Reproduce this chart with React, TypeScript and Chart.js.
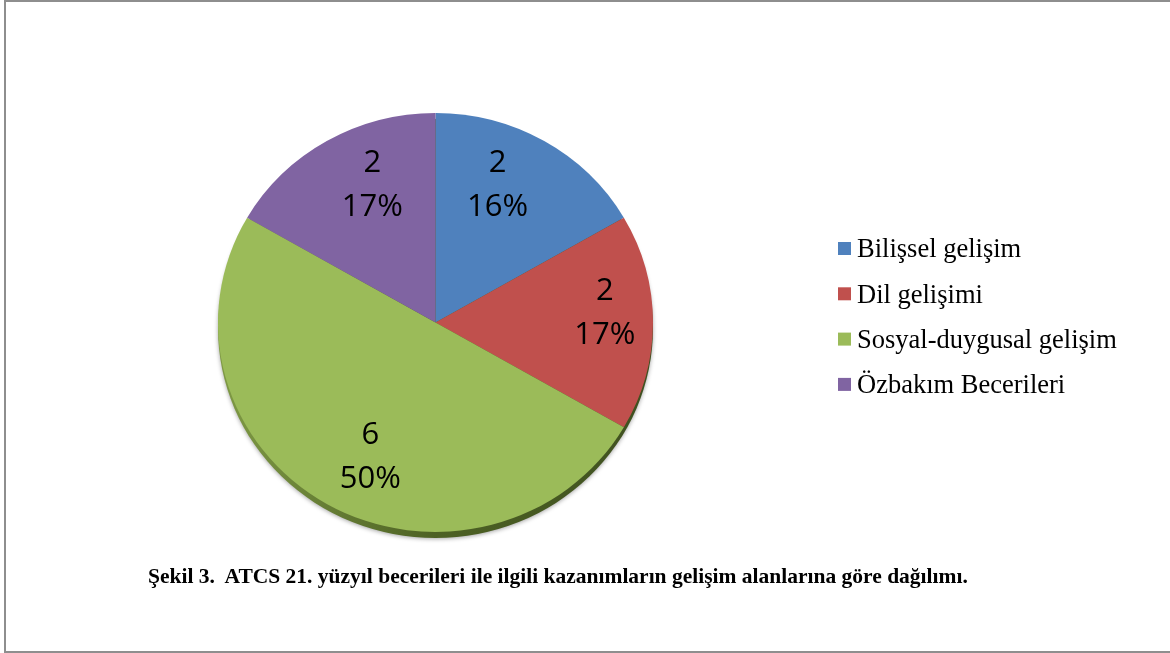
import React, { useEffect, useRef } from "react";
import { Chart, registerables } from "chart.js";

Chart.register(...registerables);

const categories = [
  "Bilişsel gelişim",
  "Dil gelişimi",
  "Sosyal-duygusal gelişim",
  "Özbakım Becerileri",
];
const values = [2, 2, 6, 2];
const percentLabels = ["16%", "17%", "50%", "17%"];
const sliceColors = ["#4f81bd", "#c0504d", "#9bbb59", "#8064a2"];
const caption =
  "Şekil 3.  ATCS 21. yüzyıl becerileri ile ilgili kazanımların gelişim alanlarına göre dağılımı.";

const TILT = 0.963;
const DEPTH = 6;
// best-fit style nudges for the data labels (layout only)
const LABEL_NUDGE: [number, number][] = [
  [-14, -10],
  [17, -9],
  [11, 8],
  [13, -10],
];

const tiltPlugin = {
  id: "tilt",
  beforeDatasetsDraw(chart: any) {
    const arc = chart.getDatasetMeta(0).data[0];
    if (!arc) return;
    const { x: cx, y: cy, outerRadius: r } = arc;
    const ctx = chart.ctx;
    ctx.save();
    ctx.translate(cx, cy);
    ctx.scale(1, TILT);
    ctx.translate(-cx, -cy);
    ctx.save();
    ctx.shadowColor = "rgba(0,0,0,0.35)";
    ctx.shadowBlur = 4;
    ctx.shadowOffsetY = 1;
    const g = ctx.createLinearGradient(cx - r, 0, cx + r, 0);
    g.addColorStop(0, "#7f9a45");
    g.addColorStop(0.5, "#4d6124");
    g.addColorStop(1, "#3f5020");
    ctx.fillStyle = g;
    ctx.beginPath();
    ctx.arc(cx, cy + DEPTH / TILT, r, 0, Math.PI * 2);
    ctx.fill();
    ctx.restore();
  },
  afterDatasetsDraw(chart: any) {
    chart.ctx.restore();
  },
};

const labelPlugin = {
  id: "sliceLabels",
  afterDraw(chart: any) {
    const ctx = chart.ctx;
    const meta = chart.getDatasetMeta(0);
    const ds = chart.data.datasets[0];
    ctx.save();
    ctx.font = '31px "Open Sans"';
    ctx.fillStyle = "#000";
    ctx.textAlign = "center";
    ctx.textBaseline = "middle";
    meta.data.forEach((arc: any, i: number) => {
      const { x, y, startAngle, endAngle, outerRadius } = arc;
      const mid = (startAngle + endAngle) / 2;
      const k = 0.7;
      const n = LABEL_NUDGE[i] || [0, 0];
      const lx = x + Math.cos(mid) * outerRadius * k + n[0];
      const ly = y + Math.sin(mid) * outerRadius * k * TILT + n[1];
      ctx.fillText(String(ds.data[i]), lx, ly - 22);
      ctx.fillText(ds.percentLabels[i], lx, ly + 22);
    });
    ctx.restore();

    // legend
    ctx.save();
    ctx.font = '26.5px "Liberation Serif"';
    ctx.textAlign = "left";
    ctx.textBaseline = "alphabetic";
    const x0 = 838;
    const y0 = 248.5;
    const step = 45.3;
    const box = 13;
    chart.data.labels.forEach((lab: string, i: number) => {
      const cy = y0 + i * step;
      ctx.fillStyle = ds.backgroundColor[i];
      ctx.fillRect(x0, cy - box / 2, box, box);
      ctx.fillStyle = "#000";
      ctx.fillText(lab, x0 + 19, cy + 8.8);
    });
    ctx.restore();
  },
};

export default function App() {
  const ref = useRef<HTMLCanvasElement>(null);
  useEffect(() => {
    document.body.style.margin = "0";
    if (!ref.current) return;
    const chart = new Chart(ref.current, {
      type: "pie",
      data: {
        labels: categories,
        datasets: [
          {
            data: values,
            percentLabels,
            backgroundColor: sliceColors,
            borderWidth: 0,
          } as any,
        ],
      },
      options: {
        responsive: false,
        animation: false,
        layout: { padding: { left: 218, right: 517, top: 105, bottom: 113 } },
        plugins: {
          legend: { display: false },
          tooltip: { enabled: false },
        },
      },
      plugins: [tiltPlugin, labelPlugin],
    });
    return () => chart.destroy();
  }, []);
  return (
    <div
      style={{
        position: "absolute",
        left: 0,
        top: 0,
        width: 1170,
        height: 653,
        overflow: "hidden",
        background: "#fff",
      }}
    >
      <div
        style={{
          position: "absolute",
          left: 4,
          top: 0,
          width: 1200,
          height: 653,
          boxSizing: "border-box",
          border: "2px solid #8e8e8e",
        }}
      />
      <canvas
        ref={ref}
        width={1170}
        height={653}
        style={{ position: "absolute", left: 0, top: 0 }}
      />
      <div
        style={{
          position: "absolute",
          left: 148,
          top: 564,
          font: 'bold 21.5px "Liberation Serif"',
          whiteSpace: "pre",
          color: "#000",
        }}
      >
        {caption}
      </div>
    </div>
  );
}
